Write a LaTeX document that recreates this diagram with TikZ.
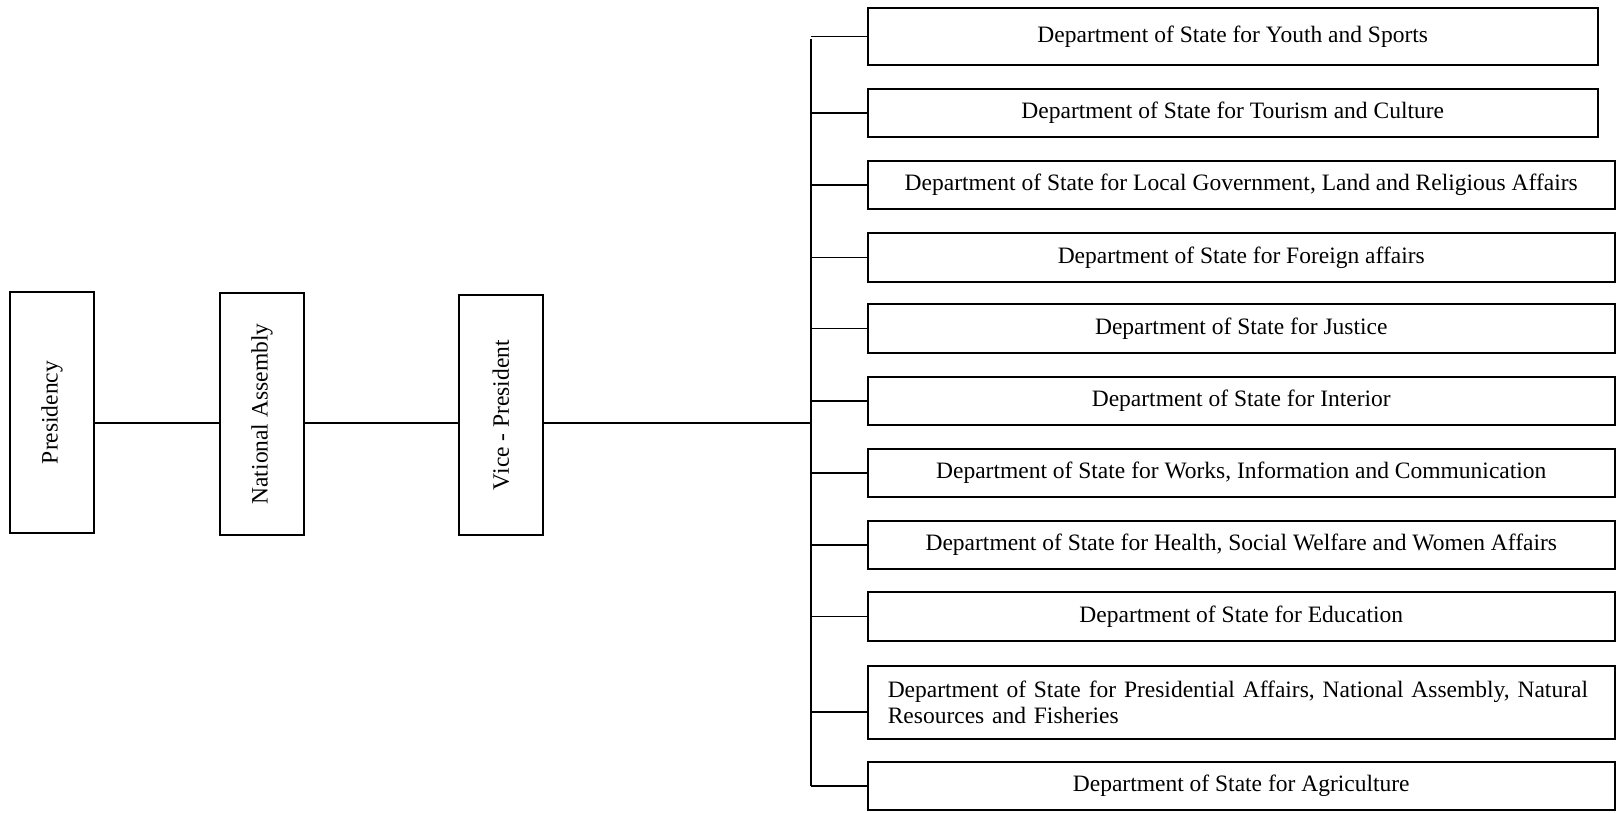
\documentclass[tikz,border=0pt]{standalone}
\usepackage{fontspec}
\setmainfont{Liberation Serif}
\begin{document}
\begin{tikzpicture}[x=1pt,y=-1pt,
  every node/.style={font=\fontsize{23.5}{26}\selectfont},
  box/.style={draw, line width=1.5pt, inner sep=0pt, anchor=center},
  vbox/.style={box, minimum width=84pt},
  dept/.style={box, minimum height=48pt, anchor=west},
  link/.style={line width=1.5pt}]
\useasboundingbox (0,0) rectangle (1618,812);
% left chain
\node[vbox, minimum height=241pt] (pres) at (52,412.5) {\rotatebox{90}{Presidency}};
\node[vbox, minimum height=242pt] (na) at (262,414) {\rotatebox{90}{National Assembly}};
\node[vbox, minimum height=240pt] (vp) at (501,415) {\rotatebox{90}{Vice - President}};
% departments
\node[dept, minimum width=730pt, minimum height=57pt] (d1) at (867,36.5) {Department of State for Youth and Sports};
\node[dept, minimum width=730pt] (d2) at (867,113) {Department of State for Tourism and Culture};
\node[dept, minimum width=747pt] (d3) at (867,185) {Department of State for Local Government, Land and Religious Affairs};
\node[dept, minimum width=747pt, minimum height=49pt] (d4) at (867,257.5) {Department of State for Foreign affairs};
\node[dept, minimum width=747pt, minimum height=49pt] (d5) at (867,328.5) {Department of State for Justice};
\node[dept, minimum width=747pt] (d6) at (867,401) {Department of State for Interior};
\node[dept, minimum width=747pt] (d7) at (867,473) {Department of State for Works, Information and Communication};
\node[dept, minimum width=747pt] (d8) at (867,545) {Department of State for Health, Social Welfare and Women Affairs};
\node[dept, minimum width=747pt, minimum height=49pt] (d9) at (867,616.5) {Department of State for Education};
\node[dept, minimum width=747pt, minimum height=73pt, text width=707pt, inner xsep=20pt, align=left] (d10) at (867,702.5) {Department of State for Presidential Affairs, National Assembly, Natural\\Resources and Fisheries};
\node[dept, minimum width=747pt] (d11) at (867,786) {Department of State for Agriculture};
% bus
\coordinate (bustop) at (811,39);
\coordinate (busbot) at (811,786);
\coordinate (busmid) at (811,423);
\coordinate (d10y) at (0,712);
% connectors
\draw[link] (pres.east |- busmid) -- (na.west |- busmid);
\draw[link] (na.east |- busmid) -- (vp.west |- busmid);
\draw[link] (vp.east |- busmid) -- (busmid);
\draw[link] (bustop) -- (busbot);
\foreach \d in {d1,d2,d3,d4,d5,d6,d7,d8,d9,d11}
  \draw[link] (\d.west -| busmid) -- (\d.west);
\draw[link] (busmid |- d10y) -- (d10.west |- d10y);
\end{tikzpicture}
\end{document}
